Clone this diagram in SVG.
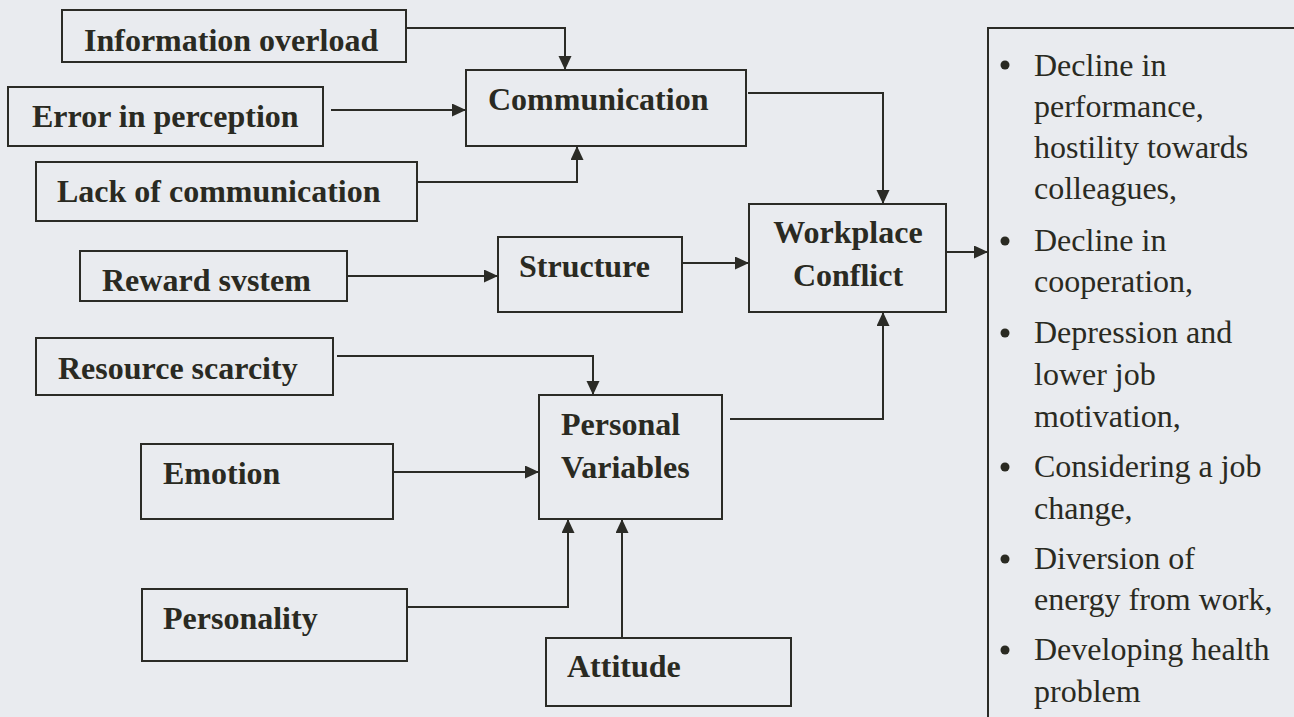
<svg xmlns="http://www.w3.org/2000/svg" width="1294" height="717" viewBox="0 0 1294 717">
<style>
.box{fill:none;stroke:#2b2b26;stroke-width:2}
.lbl{font-family:"Liberation Serif","Times New Roman",serif;font-weight:bold;font-size:32px;fill:#2a2a22}
.lst{font-family:"Liberation Serif","Times New Roman",serif;font-size:32px;fill:#2a2a22}
.con{fill:none;stroke:#2b2b26;stroke-width:2}
.bul{fill:#2a2a22}
</style>
<defs>
<marker id="ah" markerUnits="userSpaceOnUse" markerWidth="15" markerHeight="14" refX="14" refY="6.5" orient="auto">
<path d="M0,0 L14,6.5 L0,13 z" fill="#2b2b26"/>
</marker>
</defs>
<rect x="0" y="0" width="1294" height="717" fill="#e9ebef"/>

<g id="connectors">
<path class="con" d="M406,28 H565 V70" marker-end="url(#ah)"/>
<path class="con" d="M331,110 H466" marker-end="url(#ah)"/>
<path class="con" d="M417,182 H577 V146" marker-end="url(#ah)"/>
<path class="con" d="M748,93 H883 V204" marker-end="url(#ah)"/>
<path class="con" d="M347,276 H498" marker-end="url(#ah)"/>
<path class="con" d="M682,263 H749" marker-end="url(#ah)"/>
<path class="con" d="M946,252 H988" marker-end="url(#ah)"/>
<path class="con" d="M337,356 H593 V395" marker-end="url(#ah)"/>
<path class="con" d="M393,472 H539" marker-end="url(#ah)"/>
<path class="con" d="M730,419 H883 V312" marker-end="url(#ah)"/>
<path class="con" d="M408,607 H568 V519" marker-end="url(#ah)"/>
<path class="con" d="M622,638 V519" marker-end="url(#ah)"/>
</g>

<g id="info-overload">
<rect class="box" x="62" y="10" width="344" height="52"/>
<text class="lbl" x="84" y="51">Information overload</text>
</g>
<g id="error-perception">
<rect class="box" x="8" y="87" width="315" height="59"/>
<text class="lbl" x="32" y="127">Error in perception</text>
</g>
<g id="lack-communication">
<rect class="box" x="36" y="162" width="381" height="59"/>
<text class="lbl" x="57" y="202">Lack of communication</text>
</g>
<g id="communication">
<rect class="box" x="466" y="70" width="280" height="76"/>
<text class="lbl" x="488" y="110">Communication</text>
</g>
<g id="reward-system">
<rect class="box" x="80" y="251" width="267" height="50"/>
<text class="lbl" x="102" y="291">Reward svstem</text>
</g>
<g id="structure">
<rect class="box" x="498" y="237" width="184" height="75"/>
<text class="lbl" x="519" y="277">Structure</text>
</g>
<g id="workplace-conflict">
<rect class="box" x="749" y="204" width="197" height="108"/>
<text class="lbl" x="848" y="243" text-anchor="middle">Workplace</text>
<text class="lbl" x="848" y="286" text-anchor="middle">Conflict</text>
</g>
<g id="resource-scarcity">
<rect class="box" x="36" y="338" width="297" height="57"/>
<text class="lbl" x="58" y="379">Resource scarcity</text>
</g>
<g id="personal-variables">
<rect class="box" x="539" y="395" width="183" height="124"/>
<text class="lbl" x="561" y="435">Personal</text>
<text class="lbl" x="561" y="478">Variables</text>
</g>
<g id="emotion">
<rect class="box" x="141" y="444" width="252" height="75"/>
<text class="lbl" x="163" y="484">Emotion</text>
</g>
<g id="personality">
<rect class="box" x="142" y="589" width="265" height="72"/>
<text class="lbl" x="163" y="629">Personality</text>
</g>
<g id="attitude">
<rect class="box" x="546" y="638" width="245" height="68"/>
<text class="lbl" x="567" y="677">Attitude</text>
</g>

<g id="consequences">
<path class="box" d="M1294,28 H988 V717"/>
<circle class="bul" cx="1005" cy="65" r="4.5"/>
<text class="lst" x="1034" y="76">Decline in</text>
<text class="lst" x="1034" y="117">performance,</text>
<text class="lst" x="1034" y="158">hostility towards</text>
<text class="lst" x="1034" y="199">colleagues,</text>
<circle class="bul" cx="1005" cy="241" r="4.5"/>
<text class="lst" x="1034" y="251">Decline in</text>
<text class="lst" x="1034" y="292">cooperation,</text>
<circle class="bul" cx="1005" cy="333" r="4.5"/>
<text class="lst" x="1034" y="343">Depression and</text>
<text class="lst" x="1034" y="385">lower job</text>
<text class="lst" x="1034" y="427">motivation,</text>
<circle class="bul" cx="1005" cy="467" r="4.5"/>
<text class="lst" x="1034" y="477">Considering a job</text>
<text class="lst" x="1034" y="519">change,</text>
<circle class="bul" cx="1005" cy="559" r="4.5"/>
<text class="lst" x="1034" y="569">Diversion of</text>
<text class="lst" x="1034" y="610">energy from work,</text>
<circle class="bul" cx="1005" cy="650" r="4.5"/>
<text class="lst" x="1034" y="660">Developing health</text>
<text class="lst" x="1034" y="702">problem</text>
</g>
</svg>
